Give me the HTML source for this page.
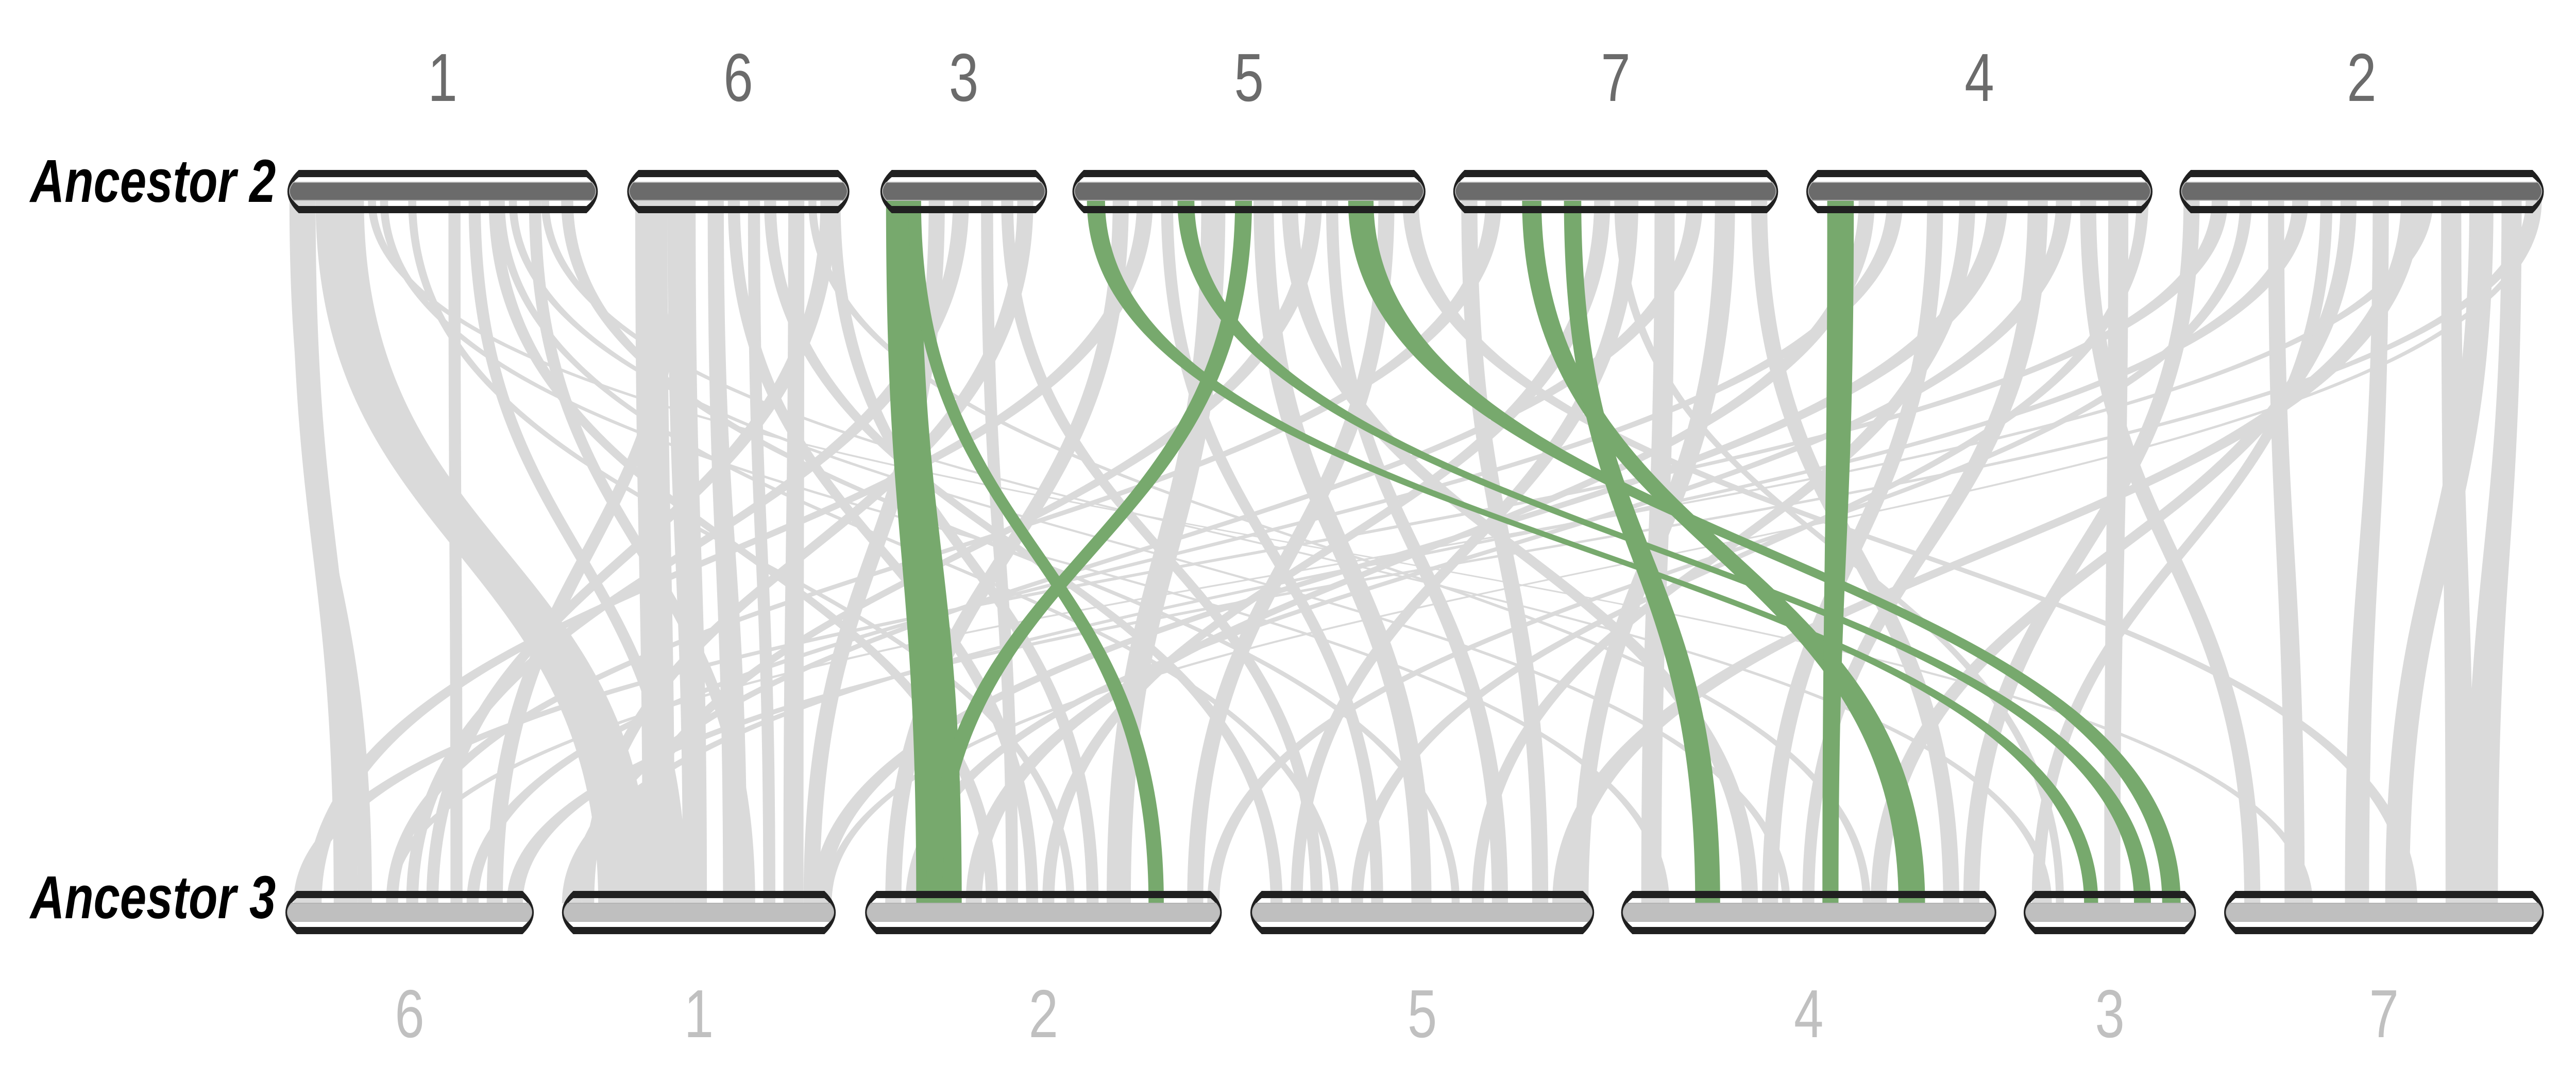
<!DOCTYPE html>
<html><head><meta charset="utf-8"><style>
html,body{margin:0;padding:0;background:#fff;overflow:hidden;}
svg{display:block;position:fixed;left:0;top:0;width:100vw;height:100vh;}
</style></head><body>
<svg id="chart" viewBox="0 0 6399 2103" preserveAspectRatio="none" xmlns="http://www.w3.org/2000/svg">
<g id="links"></g>
<g id="bars"></g>
<g id="labels"></g>
<text x="685" y="392" text-anchor="end" font-family="Liberation Sans, sans-serif" font-weight="bold" font-style="italic" font-size="118" fill="#000">Ancestor 2</text>
<text x="685" y="1783" text-anchor="end" font-family="Liberation Sans, sans-serif" font-weight="bold" font-style="italic" font-size="118" fill="#000">Ancestor 3</text>
</svg>
<script>
const topNames = ['1','6','3','5','7','4','2'];
const topLens  = [77.1, 55.2, 41.4, 87.7, 80.7, 86.0, 90.5];
const botNames = ['6','1','2','5','4','3','7'];
const botLens  = [61.7, 68.0, 88.6, 85.4, 93.2, 42.8, 79.4];
const linkTopChr  = ['1','1','1','1','1','1','1','1','1','1','1','1','1','1','6','6','6','6','6','6','6','6','6','6','6','3','3','3','3','3','5','5','5','5','5','5','5','5','5','5','7','7','7','7','7','7','7','7','7','4','4','4','4','4','4','4','4','4','4','2','2','2','2','2','2','2','2','2','2','2','2','2','2','2',
  '3','3','5','5','5','5','7','7','4'];
const linkTopStart= [1,0.5,7,40,45,50,52,55,60,63,68,20,23,30, 2,10,12,20,25,30,34,40,45,48,50, 12,18,25,30,34, 10,16,22,32,45,52,58,63,76,82, 2,8,35,42,50,58,65,74,40, 13,20,30,38,45,55,62,68,75,82, 1,8,15,22,28,35,40,48,55,65,72,80,86,60,88,
  1.4,6.9,3.6,26.1,40.4,68.5,17.1,27.5,5.2];
const linkTopEnd  = [7,2.5,19,43,48,53,54,57,63,65,71,22,25,32, 10,17,15,24,28,33,37,44,47,52,53, 16,22,28,33,38, 14,20,25,38,50,56,62,66,80,86, 6,12,39,46,55,62,70,78,42, 17,24,34,42,50,60,66,72,80,85, 5,12,18,26,32,38,44,52,60,70,78,85,89,63,90,
  10.1,10.1,8.1,30.3,44.6,74.8,21.9,31.8,11.8];
const linkBotChr  = ['6','6','1','6','1','2','5','4','1','3','5','7','4','2',
  '1','1','6','1','2','1','5','1','4','6','2',
  '1','6','2','5','1',
  '2','6','5','2','5','4','1','5','2','7',
  '5','6','2','5','4','1','5','4','3',
  '2','6','4','5','1','4','2','7','3','5',
  '4','6','2','7','1','3','4','7','5','7','7','7','6','6','1',
  '2','2','3','3','2','3','4','4','4'];
const linkBotStart= [12,18,9,41,28,30,20,40,45,5,50,20,10,50, 20,30,50,40,40,50,5,55,60,35,55, 60,30,35,15,5, 5,5,30,60,40,30,12,60,80,45, 70,25,44,10,5,2,80,80,8, 25,45,35,55,62,45,10,5,20,25, 85,2,85,15,0,2,62,30,75,55,40,60,55,25,65,
  12.7,70.4,15.0,27.4,15.1,34.4,68.9,18.4,50.0];
const linkBotEnd  = [18,21.5,22,44,31,33,22,42,48,7,52,22,12,52, 28,36,54,46,43,53,8,60,62,38,58, 64,33,38,18,8, 9,9,33,66,45,34,15,64,84,48, 74,28,47,13,10,5,84,84,10, 29,48,39,58,66,48,13,9,24,28, 89,6,88,20,3,5,66,36,80,62,46,68,59,27,67,
  24.0,74.2,18.5,31.6,19.1,39.0,75.5,24.6,54.0];
const linkHighlight=[0,0,0,0,0,0,0,0,0,0,0,0,0,0,0,0,0,0,0,0,0,0,0,0,0,0,0,0,0,0,0,0,0,0,0,0,0,0,0,0,0,0,0,0,0,0,0,0,0,0,0,0,0,0,0,0,0,0,0,0,0,0,0,0,0,0,0,0,0,0,0,0,0,0,
  1,1,1,1,1,1,1,1,1];
</script>
<script>
(function(){
const NS='http://www.w3.org/2000/svg';
const topX0=[714,1558,2187,2664,3610,4487,5414];
const botX0=[709,1396,2149,3106,4027,5027,5525];
const PX=10;
const TOP={y0:330,y1:414,b0:354,b1:389};
const BOT={y0:1730,y1:1814,b0:1754,b1:1789};
const LY0=389, LY1=1754;
function tX(name,v){const i=topNames.indexOf(name);return topX0[i]+v*PX;}
function bX(name,v){const i=botNames.indexOf(name);return botX0[i]+v*PX;}
function mk(tag,attrs){const e=document.createElementNS(NS,tag);for(const k in attrs)e.setAttribute(k,attrs[k]);return e;}
function caps(x0,x1,y0,y1,d){const yc=(y0+y1)/2;return `M${x0+d},${y0} H${x1-d} Q${x1+d},${yc} ${x1-d},${y1} H${x0+d} Q${x0-d},${yc} ${x0+d},${y0} Z`;}
const links=document.getElementById('links');
const n=Math.min(linkTopChr.length,linkBotChr.length,linkTopStart.length,linkBotStart.length);
const order=[];for(let i=0;i<n;i++)order.push(i);
order.sort((a,b)=>(linkHighlight[a]||0)-(linkHighlight[b]||0));
const ym=(LY0+LY1)/2;
order.forEach(i=>{
  const a1=tX(linkTopChr[i],linkTopStart[i]),a2=tX(linkTopChr[i],linkTopEnd[i]);
  const b1=bX(linkBotChr[i],linkBotStart[i]),b2=bX(linkBotChr[i],linkBotEnd[i]);
  const p=mk('path',{d:`M${a1},${LY0} C${a1},${ym} ${b1},${ym} ${b1},${LY1} L${b2},${LY1} C${b2},${ym} ${a2},${ym} ${a2},${LY0} Z`,fill:linkHighlight[i]?'#77a96d':'#dadada'});
  
  
  links.appendChild(p);
});
const bars=document.getElementById('bars');
const labels=document.getElementById('labels');
function drawRow(names,lens,x0s,R,band,labelY,labelColor,row){
  names.forEach((nm,i)=>{
    const x0=x0s[i],x1=x0+lens[i]*PX;
    const g=mk('g',{});
    
    
    const frame=mk('path',{d:caps(x0,x1,R.y0,R.y1,28)+' '+caps(x0+6,x1-6,R.y0+14,R.y1-14,22),fill:'#202020','fill-rule':'evenodd'});
    g.appendChild(frame);
    const bd=mk('path',{d:caps(x0+5,x1-5,R.b0,R.b1,10),fill:band,stroke:'#b4b4b4','stroke-width':'2'});
    g.appendChild(bd);
    bars.appendChild(g);
    const t=mk('text',{x:(x0+x1)/2,y:labelY,'text-anchor':'middle','font-family':'Liberation Sans, sans-serif','font-size':'132',fill:labelColor});
    t.textContent=nm;
    
    
    labels.appendChild(t);
  });
}
drawRow(topNames,topLens,topX0,TOP,'#6b6b6b',196,'#6b6b6b','top');
drawRow(botNames,botLens,botX0,BOT,'#bfbfbf',2014,'#c0c0c0','bottom');
})();
</script>
</body></html>
